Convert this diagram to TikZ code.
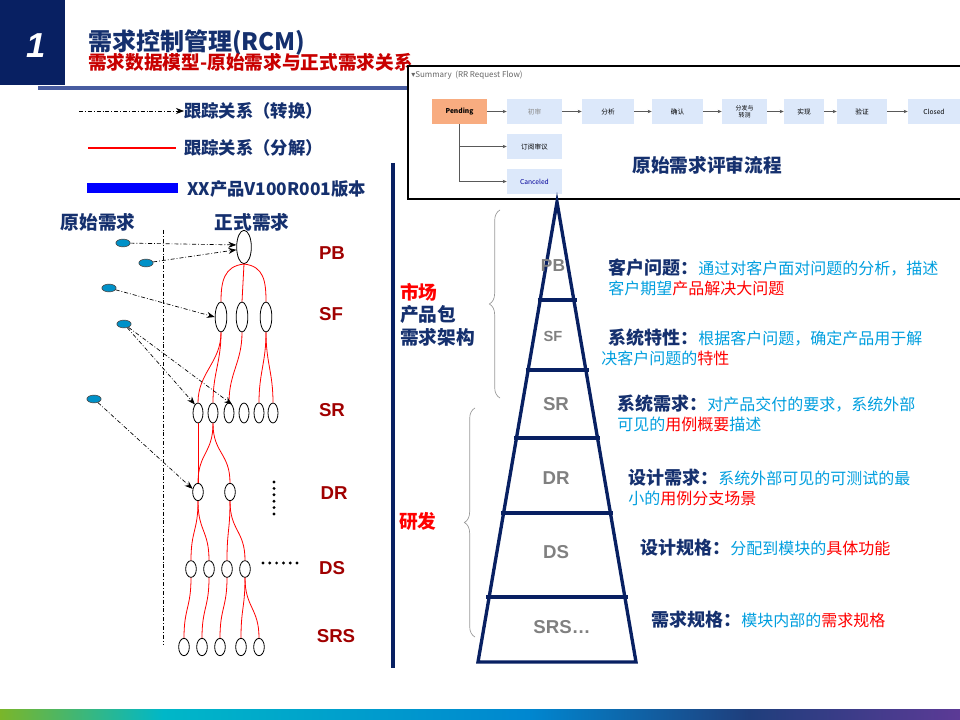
\documentclass[tikz,border=0pt]{standalone}
\usepackage{fontspec}
\setmainfont{Noto Sans CJK SC}
\newfontfamily\arialfont{Liberation Sans}
\newfontfamily\symfont{DejaVu Sans}
\usetikzlibrary{shapes.geometric,arrows.meta,calc,decorations.pathreplacing}

\definecolor{navy}{RGB}{21,48,110}
\definecolor{boxnavy}{RGB}{8,32,98}
\definecolor{darkred}{RGB}{160,0,0}
\definecolor{subred}{RGB}{200,0,0}
\definecolor{skyblue}{RGB}{0,158,222}
\definecolor{dotblue}{RGB}{0,145,200}
\definecolor{rulecol}{RGB}{72,92,160}
\definecolor{flowblue}{RGB}{220,232,250}
\definecolor{pendcol}{RGB}{248,172,128}
\definecolor{greytxt}{RGB}{128,128,128}
\definecolor{g1}{RGB}{122,182,42}
\definecolor{g2}{RGB}{0,183,200}
\definecolor{g3}{RGB}{0,135,208}
\definecolor{g4}{RGB}{31,62,124}
\definecolor{g5}{RGB}{92,58,150}
\pgfdeclarehorizontalshading{footbar}{100bp}{color(0bp)=(g1); color(25bp)=(g1); color(33.5bp)=(g2); color(52.5bp)=(g3); color(64bp)=(g4); color(75bp)=(g5); color(100bp)=(g5)}

\newcommand{\keyw}[1]{{\fontsize{13.5}{15}\selectfont\bfseries\color{navy}#1}}
\newcommand{\redw}[1]{\textcolor{red}{#1}}

\begin{document}
\begin{tikzpicture}[x=0.75pt, y=-0.75pt,
    lbl/.style={font=\bfseries\fontsize{13}{15}\selectfont, text=navy, anchor=west, inner sep=0},
    head/.style={font=\bfseries\fontsize{14}{16}\selectfont, text=navy, inner sep=0},
    lvl/.style={font=\arialfont\bfseries\fontsize{14}{16}\selectfont, text=darkred, inner sep=0},
    plvl/.style={font=\arialfont\bfseries\fontsize{14}{16}\selectfont, text=greytxt, inner sep=0},
    req/.style={ellipse, draw=black, line width=0.6pt, fill=white, inner sep=0},
    raw/.style={ellipse, draw=black!70, line width=0.5pt, fill=dotblue, inner sep=0, minimum width=10.7pt, minimum height=5.8pt},
    trans/.style={-{Stealth[length=6pt,width=4.5pt]}, dash pattern=on 3pt off 1.5pt on 0.6pt off 1.5pt, black, line width=0.5pt},
    decomp/.style={red, line width=0.6pt},
    fbox/.style={fill=flowblue, minimum height=18.75pt, font=\fontsize{5}{6}\selectfont, inner sep=0, align=center},
    flow/.style={-{Stealth[length=3pt,width=2.5pt]}, draw=black!65, line width=0.6pt},
    desc/.style={anchor=west, inner sep=0, font=\fontsize{12}{14}\selectfont, text=skyblue},
    pyr/.style={boxnavy, line width=2.5pt},
    brc/.style={decorate, decoration={brace, amplitude=8pt}, draw=black!40, line width=0.5pt}]
\useasboundingbox (0,0) rectangle (960,720);

% 标题栏
\fill[boxnavy] (0,0) rectangle (65,85);
\node[font=\arialfont\bfseries\itshape\fontsize{26}{28}\selectfont, text=white] (num) at (36,46) {1};
\node[font=\bfseries\fontsize{18}{20}\selectfont, text=navy, anchor=west, inner sep=0] (ttl) at (88,43) {需求控制管理(RCM)};
\node[font=\bfseries\fontsize{14}{16}\selectfont, text=subred, anchor=west, inner sep=0] (sub) at (88,62) {需求数据模型-原始需求与正式需求关系};
\draw[rulecol, line width=2.3pt] (38,88) -- (408,88);

% 流程截图
\draw[black, line width=0.9pt, fill=white] (960,66) -- (408,66) -- (408,199) -- (960,199);
\node[anchor=west, inner sep=0, text=black!60, font=\fontsize{6}{7}\selectfont] (summ) at (411,75) {{\symfont ▾}Summary\ \ (RR Request Flow)};
\node[fbox, fill=pendcol, minimum width=41.25pt, font=\bfseries\fontsize{5}{6}\selectfont] (pend) at (459.5,111.5) {Pending};
\node[fbox, minimum width=41.25pt, text=black!45] (s1) at (534.5,111.5) {初审};
\node[fbox, minimum width=39pt] (s2) at (608,111.5) {分析};
\node[fbox, minimum width=38.25pt] (s3) at (677.5,111.5) {确认};
\node[fbox, minimum width=33.75pt, font=\fontsize{4.5}{5}\selectfont] (s4) at (744.5,111.5) {分发与\\转测};
\node[fbox, minimum width=30pt] (s5) at (804,111.5) {实现};
\node[fbox, minimum width=37.5pt] (s6) at (862,111.5) {验证};
\node[fbox, minimum width=39pt] (s7) at (934,111.5) {Closed};
\node[fbox, minimum width=41.25pt] (s8) at (534.5,146.5) {订阅审议};
\node[fbox, minimum width=41.25pt, text=blue!60!black] (s9) at (534.5,181.5) {Canceled};
\foreach \a/\b in {pend/s1,s1/s2,s2/s3,s3/s4,s4/s5,s5/s6,s6/s7}
  \draw[flow] (\a) -- (\b);
\draw[flow] (pend.south) |- (s8.west);
\draw[flow] (pend.south) |- (s9.west);
\node[font=\bfseries\fontsize{14}{16}\selectfont, text=navy, inner sep=0] (flowttl) at (707,165) {原始需求评审流程};

% 图例
\coordinate (la) at (79,111);
\node[lbl] (lt1) at (184,111) {跟踪关系（转换）};
\draw[trans] (la) -- (lt1.west);
\coordinate (lb1) at (88,148);
\coordinate (lb2) at (176,148);
\node[lbl] (lt2) at (184,148) {跟踪关系（分解）};
\draw[red, line width=0.8pt] (lb1) -- (lb2);
\coordinate (lc1) at (87,188);
\coordinate (lc2) at (178,188);
\node[lbl] (lt3) at (187,189) {XX产品V100R001版本};
\draw[blue, line width=7pt] (lc1) -- (lc2);

% 分隔线
\draw[boxnavy, line width=3pt] (393,163) -- (393,668);

% 原始需求 / 正式需求
\node[head] (hraw) at (98,222) {原始需求};
\node[head] (hreq) at (252,222) {正式需求};
\draw[black, line width=0.5pt, dash pattern=on 3pt off 1.5pt on 0.6pt off 1.5pt] (163,230) -- (163,645);

\node[req, minimum width=11pt, minimum height=25pt] (pb) at (244,247) {};
\foreach \n/\x in {1/221,2/242,3/266}
  \node[req, minimum width=8.75pt, minimum height=22.5pt] (sf\n) at (\x,317) {};
\foreach \n/\x in {1/198,2/213,3/229,4/244,5/259,6/273}
  \node[req, minimum width=7.5pt, minimum height=15pt] (sr\n) at (\x,413) {};
\foreach \n/\x in {1/198,2/230}
  \node[req, minimum width=8pt, minimum height=13pt] (dr\n) at (\x,492) {};
\foreach \n/\x in {1/191,2/209,3/227,4/245}
  \node[req, minimum width=8pt, minimum height=12.5pt] (ds\n) at (\x,569) {};
\foreach \n/\x in {1/184,2/202,3/220,4/241,5/259}
  \node[req, minimum width=8pt, minimum height=13pt] (srs\n) at (\x,647) {};

% 分解关系
\draw[decomp] (pb.south) .. controls +(-20,2) and +(0,-20) .. (sf1.north);
\draw[decomp] (pb.south) -- (sf2.north);
\draw[decomp] (pb.south) .. controls +(20,2) and +(0,-20) .. (sf3.north);
\foreach \a/\b in {sf1/sr1,sf1/sr2,sf2/sr3,sf3/sr5,sf3/sr6,sr1/dr1,sr2/dr1,sr2/dr2,dr1/ds1,dr1/ds2,dr2/ds3,dr2/ds4,ds1/srs1,ds2/srs2,ds3/srs3,ds4/srs4,ds4/srs5}
  \draw[decomp] (\a.south) .. controls +(0,30) and +(0,-30) .. (\b.north);

% 原始需求与转换关系
\node[raw] (o1) at (123,243) {};
\node[raw] (o2) at (146,263) {};
\node[raw] (o3) at (109,288) {};
\node[raw] (o4) at (124,324) {};
\node[raw] (o5) at (94,399) {};
\draw[trans] (o1) -- (pb.165);
\draw[trans] (o2) -- (pb.200);
\draw[trans] (o3) -- (sf1.180);
\draw[trans] (o4) -- (sr1.110);
\draw[trans] (o4) -- (sr3.70);
\draw[trans] (o5) -- (dr1.150);

% 省略号
\foreach \k in {0,...,5} \fill (274,482+\k*6.4) circle (1.2pt);
\foreach \k in {0,...,5} \fill (263+\k*6.8,563) circle (1.2pt);

% 层级
\node[lvl] (lpb) at (332,253) {PB};
\node[lvl] (lsf) at (331,314) {SF};
\node[lvl] (lsr) at (332,410) {SR};
\node[lvl] (ldr) at (334,493) {DR};
\node[lvl] (lds) at (332,568) {DS};
\node[lvl] (lsrs) at (336,636) {SRS};

% 金字塔
\coordinate (top) at (557,202);
\coordinate (bl) at (478,662);
\coordinate (br) at (636,662);
\draw[pyr, line join=miter] (top) -- (br) -- (bl) -- cycle;
\foreach \f in {0.213,0.365,0.513,0.676,0.859}
  \draw[pyr, shorten <=-2pt, shorten >=-2pt] ($(top)!\f!(bl)$) -- ($(top)!\f!(br)$);
\node[plvl, font=\arialfont\bfseries\fontsize{13}{15}\selectfont] (ppb) at (553,266) {PB};
\node[plvl, font=\arialfont\bfseries\fontsize{11}{13}\selectfont] (psf) at (553,336) {SF};
\node[plvl] (psr) at (556,404) {SR};
\node[plvl] (pdr) at (556,478) {DR};
\node[plvl] (pds) at (556,552) {DS};
\node[plvl] (psrs) at (562,627) {SRS…};

% 大括号
\draw[brc] (500,398) -- (500,210);
\draw[brc] (475,637) -- (475,408);
\node[font=\bfseries\fontsize{14}{16}\selectfont, text=red, anchor=west, inner sep=0] (mk) at (400,292) {市场};
\node[font=\bfseries\fontsize{14}{16}\selectfont, text=navy, anchor=west, inner sep=0] (cp) at (400,314) {产品包};
\node[font=\bfseries\fontsize{14}{16}\selectfont, text=navy, anchor=west, inner sep=0] (jg) at (400,337) {需求架构};
\node[font=\bfseries\fontsize{14}{16}\selectfont, text=red, anchor=west, inner sep=0] (yf) at (399,521) {研发};

% 说明文字
\node[desc] (d1a) at (608,268) {\keyw{客户问题：}通过对客户面对问题的分析，描述};
\node[desc] (d1b) at (608,288) {客户期望\redw{产品解决大问题}};
\node[desc] (d2a) at (608,338) {\keyw{系统特性：}根据客户问题，确定产品用于解};
\node[desc] (d2b) at (601,358) {决客户问题的\redw{特性}};
\node[desc] (d3a) at (617,404) {\keyw{系统需求：}对产品交付的要求，系统外部};
\node[desc] (d3b) at (617,424) {可见的\redw{用例概要}描述};
\node[desc] (d4a) at (628,478) {\keyw{设计需求：}系统外部可见的可测试的最};
\node[desc] (d4b) at (628,498) {小的\redw{用例分支场景}};
\node[desc] (d5) at (640,548) {\keyw{设计规格：}分配到模块的\redw{具体功能}};
\node[desc] (d6) at (651,620) {\keyw{需求规格：}模块内部的\redw{需求规格}};

% 底部色带
\shade[shading=footbar] (0,709) rectangle (960,720);
\end{tikzpicture}
\end{document}
